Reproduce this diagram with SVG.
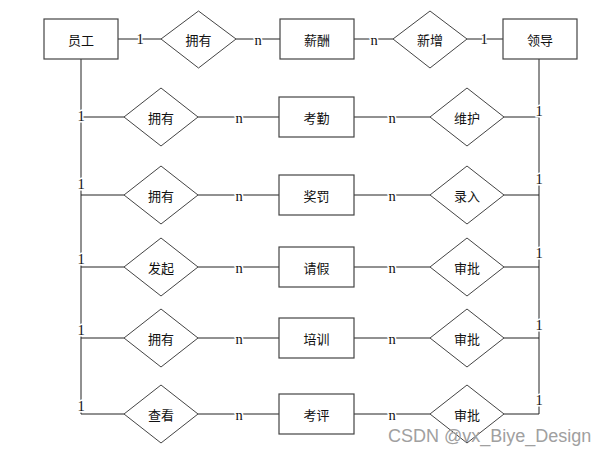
<svg xmlns="http://www.w3.org/2000/svg" width="608" height="456" viewBox="0 0 608 456">
<style>
.ent{fill:#fff;stroke:#444;stroke-width:1.2}
.rel{fill:#fff;stroke:#444;stroke-width:1}
.ln{stroke:#222;stroke-width:1;fill:none}
.t{font-family:"Noto Sans CJK SC","Noto Sans",sans-serif;font-size:13px;fill:#111;text-anchor:middle;dominant-baseline:central}
.c{font-family:"Liberation Serif","DejaVu Serif",serif;font-size:14.5px;fill:#111;text-anchor:middle;dominant-baseline:central;stroke:#fff;stroke-width:3;paint-order:stroke}
.wm{font-family:"Liberation Sans",Arial,sans-serif;font-size:18px;fill:#a0a0a0}
</style>
<rect width="608" height="456" fill="#fff"/>
<g id="connectors">
<line class="ln" x1="118" y1="39" x2="161" y2="39"/>
<line class="ln" x1="236" y1="39" x2="280" y2="39"/>
<line class="ln" x1="354" y1="39" x2="393" y2="39"/>
<line class="ln" x1="467" y1="39" x2="503" y2="39"/>
<line class="ln" x1="81" y1="59" x2="81" y2="414"/>
<line class="ln" x1="539" y1="59" x2="539" y2="414"/>
<line class="ln" x1="81" y1="117" x2="124" y2="117"/>
<line class="ln" x1="198" y1="117" x2="279" y2="117"/>
<line class="ln" x1="354" y1="117" x2="430" y2="117"/>
<line class="ln" x1="504" y1="117" x2="539" y2="117"/>
<line class="ln" x1="81" y1="195" x2="124" y2="195"/>
<line class="ln" x1="198" y1="195" x2="279" y2="195"/>
<line class="ln" x1="354" y1="195" x2="430" y2="195"/>
<line class="ln" x1="504" y1="195" x2="539" y2="195"/>
<line class="ln" x1="81" y1="267" x2="124" y2="267"/>
<line class="ln" x1="198" y1="267" x2="279" y2="267"/>
<line class="ln" x1="354" y1="267" x2="430" y2="267"/>
<line class="ln" x1="504" y1="267" x2="539" y2="267"/>
<line class="ln" x1="81" y1="338" x2="124" y2="338"/>
<line class="ln" x1="198" y1="338" x2="279" y2="338"/>
<line class="ln" x1="354" y1="338" x2="430" y2="338"/>
<line class="ln" x1="504" y1="338" x2="539" y2="338"/>
<line class="ln" x1="81" y1="414" x2="124" y2="414"/>
<line class="ln" x1="198" y1="414" x2="279" y2="414"/>
<line class="ln" x1="354" y1="414" x2="430" y2="414"/>
<line class="ln" x1="504" y1="414" x2="539" y2="414"/>
<text class="c" x="140" y="39">1</text>
<text class="c" x="258" y="40">n</text>
<text class="c" x="374" y="40">n</text>
<text class="c" x="484" y="39">1</text>
<text class="c" x="81" y="116">1</text>
<text class="c" x="81" y="184">1</text>
<text class="c" x="81" y="259">1</text>
<text class="c" x="81" y="330">1</text>
<text class="c" x="81" y="406">1</text>
<text class="c" x="539" y="111">1</text>
<text class="c" x="539" y="179">1</text>
<text class="c" x="539" y="253">1</text>
<text class="c" x="539" y="325">1</text>
<text class="c" x="539" y="400">1</text>
<text class="c" x="239" y="118">n</text>
<text class="c" x="239" y="196">n</text>
<text class="c" x="239" y="268">n</text>
<text class="c" x="239" y="339">n</text>
<text class="c" x="239" y="415">n</text>
<text class="c" x="392" y="118">n</text>
<text class="c" x="392" y="196">n</text>
<text class="c" x="392" y="268">n</text>
<text class="c" x="392" y="339">n</text>
<text class="c" x="392" y="415">n</text>
</g>
<g id="yuangong"><rect class="ent" x="44" y="19" width="74" height="40"/><text class="t" x="81" y="39">员工</text></g>
<g id="r-yongyou1"><polygon class="rel" points="161,39 198.5,11 236,39 198.5,68"/><text class="t" x="198.5" y="39">拥有</text></g>
<g id="xinchou"><rect class="ent" x="280" y="19" width="74" height="40"/><text class="t" x="317" y="39">薪酬</text></g>
<g id="r-xinzeng"><polygon class="rel" points="393,39 430,11 467,39 430,68"/><text class="t" x="430" y="39">新增</text></g>
<g id="lingdao"><rect class="ent" x="503" y="19" width="74" height="40"/><text class="t" x="540" y="39">领导</text></g>

<g id="r-yongyou2"><polygon class="rel" points="124,117 161,88 198,117 161,146"/><text class="t" x="161" y="117">拥有</text></g>
<g id="kaoqin"><rect class="ent" x="279" y="97" width="75" height="40"/><text class="t" x="316.5" y="117">考勤</text></g>
<g id="r-weihu"><polygon class="rel" points="430,117 467,88 504,117 467,146"/><text class="t" x="467" y="117">维护</text></g>

<g id="r-yongyou3"><polygon class="rel" points="124,195 161,166 198,195 161,224"/><text class="t" x="161" y="195">拥有</text></g>
<g id="jiangfa"><rect class="ent" x="279" y="175" width="75" height="40"/><text class="t" x="316.5" y="195">奖罚</text></g>
<g id="r-luru"><polygon class="rel" points="430,195 467,166 504,195 467,224"/><text class="t" x="467" y="195">录入</text></g>

<g id="r-faqi"><polygon class="rel" points="124,267 161,238 198,267 161,296"/><text class="t" x="161" y="267">发起</text></g>
<g id="qingjia"><rect class="ent" x="279" y="247" width="75" height="40"/><text class="t" x="316.5" y="267">请假</text></g>
<g id="r-shenpi1"><polygon class="rel" points="430,267 467,238 504,267 467,296"/><text class="t" x="467" y="267">审批</text></g>

<g id="r-yongyou4"><polygon class="rel" points="124,338 161,309 198,338 161,367"/><text class="t" x="161" y="338">拥有</text></g>
<g id="peixun"><rect class="ent" x="279" y="318" width="75" height="40"/><text class="t" x="316.5" y="338">培训</text></g>
<g id="r-shenpi2"><polygon class="rel" points="430,338 467,309 504,338 467,367"/><text class="t" x="467" y="338">审批</text></g>

<g id="r-chakan"><polygon class="rel" points="124,414 161,385 198,414 161,443"/><text class="t" x="161" y="414">查看</text></g>
<g id="kaoping"><rect class="ent" x="279" y="394" width="75" height="40"/><text class="t" x="316.5" y="414">考评</text></g>
<g id="r-shenpi3"><polygon class="rel" points="430,414 467,385 504,414 467,443"/><text class="t" x="467" y="414">审批</text></g>

<text class="wm" x="388" y="442">CSDN @vx_Biye_Design</text>
</svg>
